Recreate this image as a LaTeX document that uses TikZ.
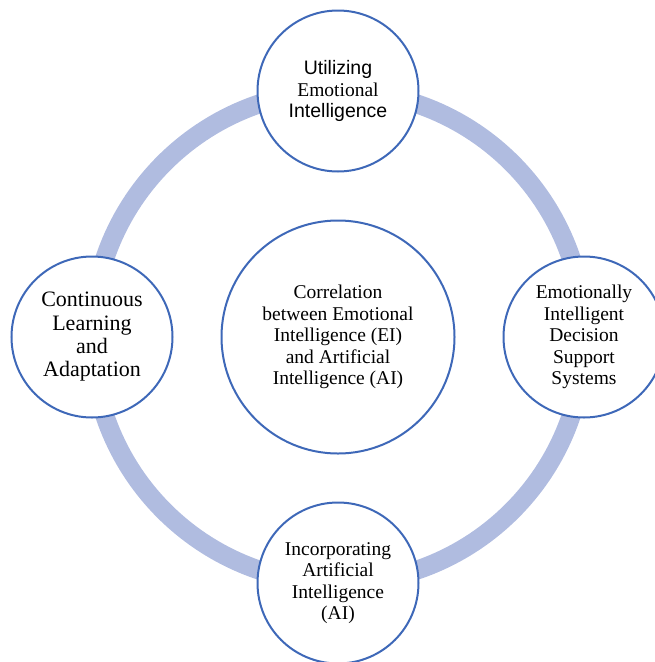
\documentclass[tikz,border=0pt]{standalone}
\usepackage{fontspec}
\setmainfont{Liberation Serif}
\newfontfamily\sansfam{Liberation Sans}
\usetikzlibrary{positioning}

\definecolor{ringblue}{RGB}{176,188,224}
\definecolor{edgeblue}{RGB}{62,104,184}

\begin{document}
\begin{tikzpicture}[
    x=1pt,y=-1pt,
    bubble/.style={circle,draw=edgeblue,fill=white,line width=2pt,minimum size=161pt,inner sep=0pt,align=center,font=\fontsize{19.5}{21.5}\selectfont},
    hubble/.style={bubble,minimum size=233pt},
    ring/.style={draw=ringblue,line width=19pt},
    on grid,node distance=246pt
]
    \useasboundingbox (0,0) rectangle (655,662);

    % Hub
    \node[hubble] (hub) at (338,337) {Correlation\\between Emotional\\Intelligence (EI)\\and Artificial\\Intelligence (AI)};

    % Ring behind the satellites
    \draw[ring] (hub.center) circle[radius=246];

    % Satellites
    \node[bubble,above=of hub] (use) {{\sansfam Utilizing}\\Emotional\\{\sansfam Intelligence}};
    \node[bubble,right=of hub] (dss) {Emotionally\\Intelligent\\Decision\\Support\\Systems};
    \node[bubble,below=of hub] (inc) {Incorporating\\Artificial\\Intelligence\\(AI)};
    \node[bubble,left=of hub,font=\fontsize{22}{23.3}\selectfont] (learn) {Continuous\\Learning\\and\\Adaptation};
\end{tikzpicture}
\end{document}
